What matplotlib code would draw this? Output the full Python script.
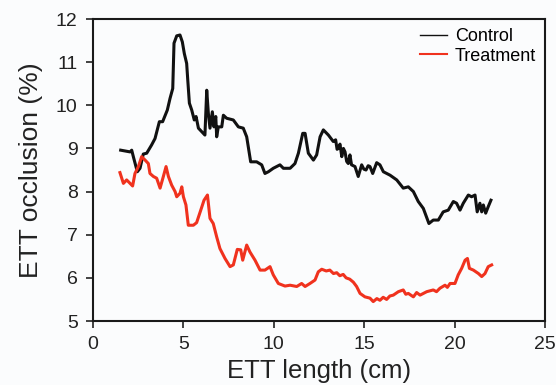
import matplotlib.pyplot as plt
from matplotlib.lines import Line2D

plt.rcParams['font.family'] = ['Liberation Sans', 'DejaVu Sans']

# control curve
control_x = [1.53, 2.05, 2.14, 2.23, 2.45, 2.6, 2.78, 2.97, 3.24, 3.43, 3.67, 3.85,
             4.11, 4.26, 4.41, 4.48, 4.63, 4.81, 4.94, 5.05, 5.18, 5.24, 5.33, 5.46,
             5.6, 5.7, 5.83, 6.01, 6.19, 6.29, 6.38, 6.47, 6.6, 6.69, 6.79, 6.84, 6.93,
             7.12, 7.21, 7.39, 7.76, 8.04, 8.31, 8.5, 8.72, 9.05, 9.33, 9.51, 9.7,
             9.97, 10.34, 10.53, 10.9, 11.17, 11.36, 11.6, 11.73, 11.91, 12.19, 12.37,
             12.56, 12.74, 13.02, 13.29, 13.42, 13.5, 13.57, 13.66, 13.76, 13.85, 13.94,
             14.03, 14.12, 14.21, 14.3, 14.49, 14.67, 14.86, 14.98, 15.1, 15.22, 15.32,
             15.47, 15.69, 15.87, 16.06, 16.43, 16.8, 17.16, 17.44, 17.72, 17.99, 18.27,
             18.58, 18.82, 19.1, 19.37, 19.65, 19.93, 20.11, 20.3, 20.48, 20.76, 20.94,
             21.13, 21.25, 21.4, 21.5, 21.59, 21.72, 21.86, 22.01]
control_y = [8.96, 8.92, 8.96, 8.81, 8.46, 8.54, 8.87, 8.89, 9.08, 9.23, 9.62, 9.62,
             9.89, 10.16, 10.39, 11.44, 11.61, 11.63, 11.47, 11.2, 10.97, 10.59, 10.05, 9.89,
             9.66, 9.74, 9.47, 9.39, 9.31, 10.35, 9.81, 9.47, 9.85, 9.5, 9.74, 9.27, 9.5,
             9.5, 9.77, 9.7, 9.66, 9.5, 9.47, 9.27, 8.69, 8.69, 8.62, 8.42, 8.46,
             8.54, 8.62, 8.54, 8.54, 8.65, 8.89, 9.35, 9.35, 8.89, 8.73, 8.85,
             9.27, 9.43, 9.31, 9.16, 9.2, 8.98, 9.0, 9.1, 8.81, 9.0, 8.92,
             8.7, 8.65, 8.85, 8.62, 8.58, 8.35, 8.62, 8.52, 8.5, 8.6, 8.58,
             8.42, 8.67, 8.62, 8.46, 8.38, 8.27, 8.08, 8.11, 8.0, 7.77, 7.61,
             7.26, 7.34, 7.34, 7.53, 7.57, 7.77, 7.73, 7.57, 7.73, 7.92, 7.88,
             7.92, 7.53, 7.73, 7.53, 7.69, 7.5, 7.65, 7.8]

# treatment curve
treat_x = [1.49, 1.68, 1.86, 2.05, 2.19, 2.32, 2.51, 2.69, 2.88, 3.06, 3.15, 3.34,
           3.52, 3.71, 3.89, 4.04, 4.17, 4.35, 4.54, 4.63, 4.81, 4.91, 5.0, 5.14,
           5.27, 5.55, 5.73, 5.96, 6.14, 6.33, 6.47, 6.65, 6.84, 7.02, 7.3, 7.58,
           7.76, 7.98, 8.17, 8.28, 8.5, 8.68, 8.96, 9.24, 9.51, 9.79, 9.97, 10.25,
           10.62, 10.9, 11.27, 11.54, 11.73, 12.0, 12.28, 12.46, 12.65, 12.9, 13.1,
           13.3, 13.48, 13.65, 13.84, 14.0, 14.2, 14.4, 14.58, 14.77, 15.04, 15.32,
           15.5, 15.7, 15.87, 16.05, 16.24, 16.42, 16.61, 16.89, 17.16, 17.3, 17.44,
           17.72, 17.9, 18.09, 18.46, 18.82, 19.0, 19.19, 19.47, 19.6, 19.75, 20.02,
           20.2, 20.39, 20.58, 20.71, 20.82, 21.04, 21.32, 21.5, 21.68, 21.86, 22.05]
treat_y = [8.44, 8.19, 8.27, 8.19, 8.13, 8.42, 8.58, 8.81, 8.73, 8.65, 8.42, 8.35,
           8.31, 8.08, 8.35, 8.58, 8.35, 8.15, 8.0, 7.88, 7.96, 8.11, 7.88, 7.69,
           7.22, 7.22, 7.28, 7.57, 7.8, 7.92, 7.38, 7.26, 6.95, 6.68, 6.45, 6.26,
           6.3, 6.66, 6.65, 6.41, 6.76, 6.6, 6.41, 6.18, 6.18, 6.26, 6.07, 5.87,
           5.81, 5.83, 5.8, 5.87, 5.8, 5.87, 5.95, 6.14, 6.2, 6.16, 6.18,
           6.1, 6.12, 6.05, 6.08, 6.0, 5.97, 5.9, 5.8, 5.64, 5.56, 5.53,
           5.45, 5.52, 5.48, 5.55, 5.5, 5.58, 5.6, 5.68, 5.72, 5.62, 5.64,
           5.56, 5.66, 5.6, 5.68, 5.72, 5.68, 5.76, 5.83, 5.78, 5.87, 5.87,
           6.07, 6.22, 6.41, 6.45, 6.22, 6.18, 6.1, 6.03, 6.1, 6.26, 6.3]

x_ticks = [0, 5, 10, 15, 20, 25]
y_ticks = [5, 6, 7, 8, 9, 10, 11, 12]

bg = '#fbfcfd'
red = '#f0321e'

fig = plt.figure(figsize=(5.56, 3.85), dpi=100, facecolor=bg)
ax = fig.add_axes([0.1673, 0.1662, 0.8129, 0.7844], facecolor=bg)

ax.plot(control_x, control_y, color='#111111', lw=2.2, solid_joinstyle='round')
ax.plot(treat_x, treat_y, color=red, lw=2.2, solid_joinstyle='round')

ax.set_xlim(0, 25)
ax.set_ylim(5, 12)
ax.set_xticks(x_ticks)
ax.set_yticks(y_ticks)
ax.tick_params(direction='out', length=5, width=1.2, labelsize=14, colors='#222222')
ax.tick_params(axis='x', pad=6)
ax.tick_params(axis='y', pad=6)
for s in ax.spines.values():
    s.set_linewidth(1.5)
    s.set_color('#1a1a1a')

# the reference clips this label at the bottom edge; keep it just inside
ax.set_xlabel('ETT length (cm)', fontsize=18.5, labelpad=4, color='#222222')
ax.set_ylabel('ETT occlusion (%)', fontsize=19, labelpad=9, color='#222222')

handles = [Line2D([], [], color='#111111', lw=1.0),
           Line2D([], [], color=red, lw=1.5)]
ax.legend(handles, ['Control', 'Treatment'], loc='upper right', frameon=False,
          fontsize=13, handlelength=1.5, handletextpad=0.4, labelspacing=0.15,
          borderaxespad=0.1, bbox_to_anchor=(1.0, 1.0))

fig.savefig('out.png', dpi=100, facecolor=bg)
